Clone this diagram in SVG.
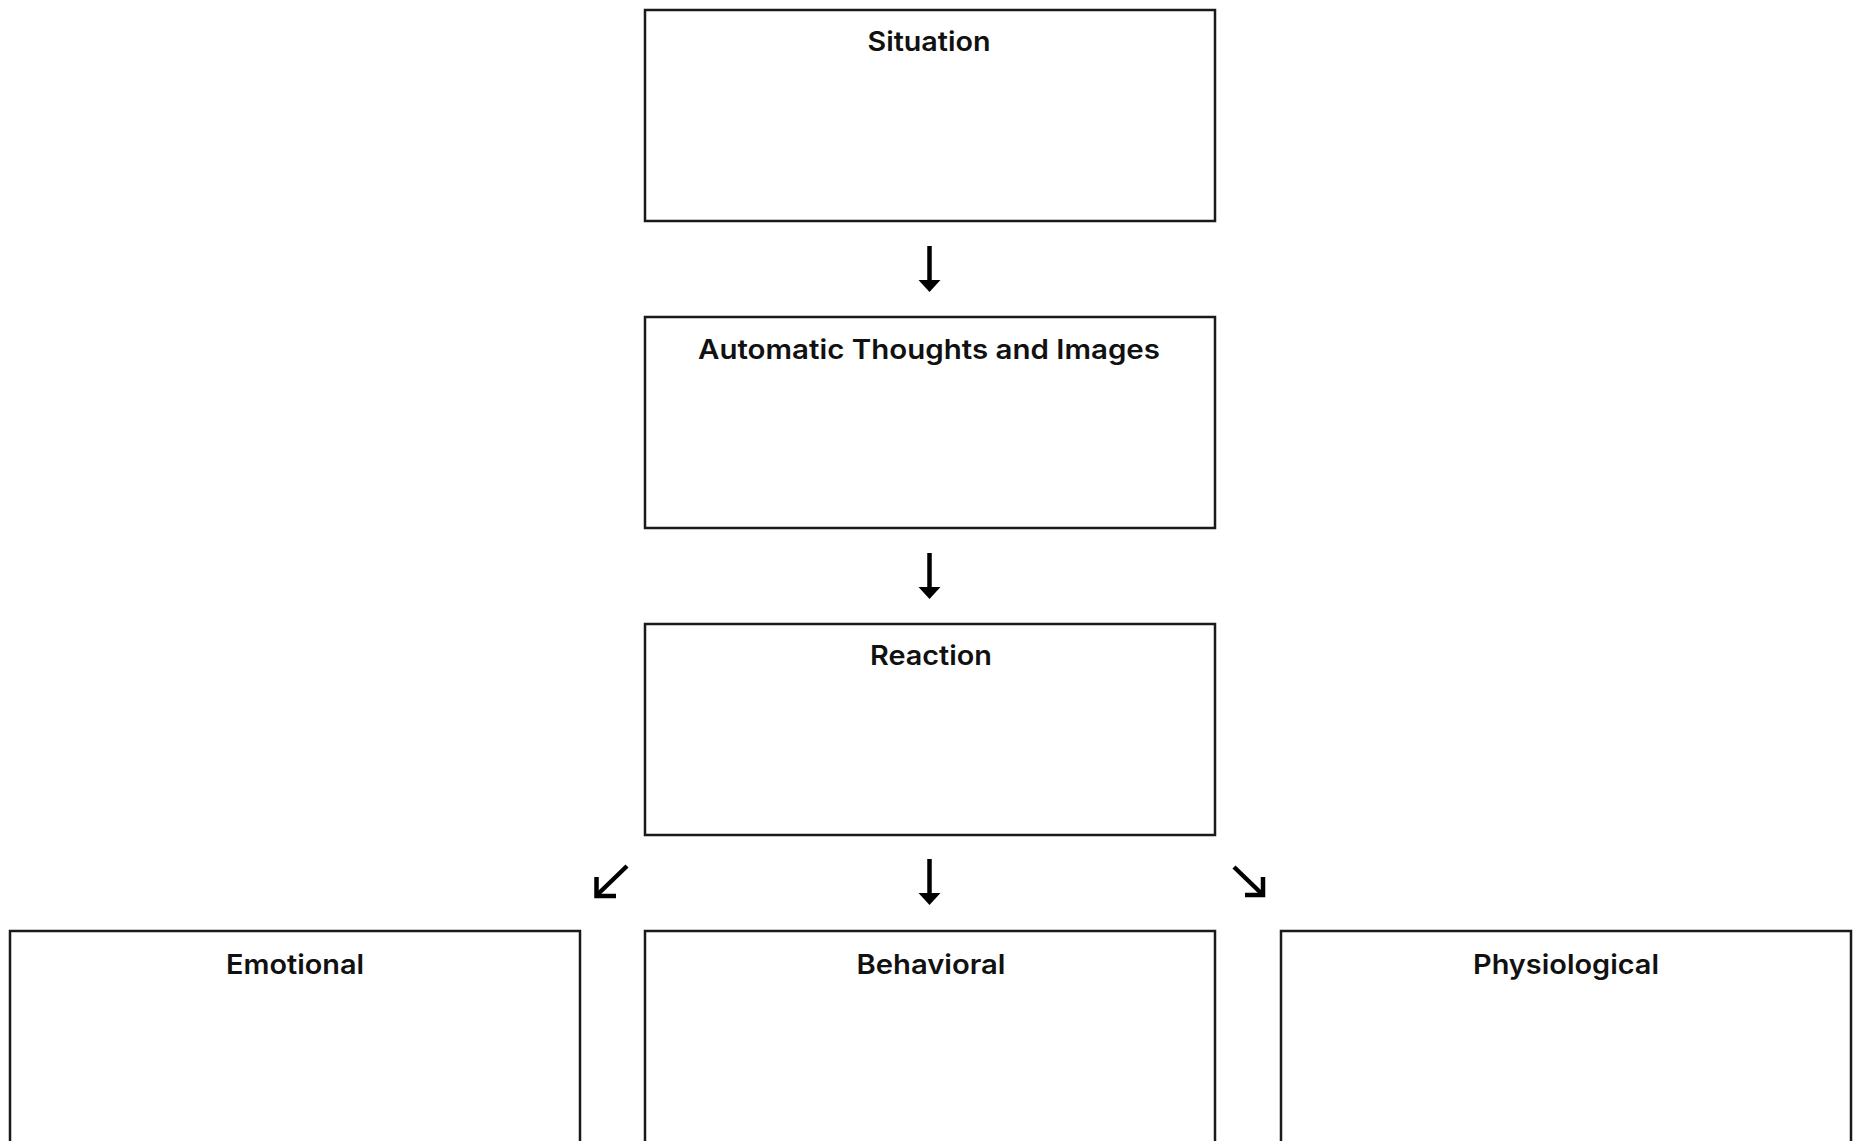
<svg xmlns="http://www.w3.org/2000/svg" width="1858" height="1141" viewBox="0 0 1858 1141">
  <style>
    .box { fill: #ffffff; stroke: #1a1a1a; stroke-width: 2.5; }
    .label { font-family: Inter, "Open Sans", "Liberation Sans", sans-serif; font-weight: 600; font-size: 27px; fill: #111111; text-anchor: middle; }
    .conn { stroke: #000000; stroke-width: 4.5; fill: none; }
    .head { fill: #000000; stroke: none; }
    .chev { stroke: #000000; stroke-width: 4.5; fill: none; stroke-linejoin: miter; stroke-linecap: butt; }
  </style>
  <rect width="1858" height="1141" fill="#ffffff"/>
  <g id="node-situation">
    <rect class="box" x="645" y="10" width="570" height="211"/>
    <text class="label" x="929" y="51" textLength="123" lengthAdjust="spacingAndGlyphs">Situation</text>
  </g>
  <g id="node-automatic-thoughts">
    <rect class="box" x="645" y="317" width="570" height="211"/>
    <text class="label" x="929" y="359" textLength="462" lengthAdjust="spacingAndGlyphs">Automatic Thoughts and Images</text>
  </g>
  <g id="node-reaction">
    <rect class="box" x="645" y="624" width="570" height="211"/>
    <text class="label" x="931" y="665" textLength="122" lengthAdjust="spacingAndGlyphs">Reaction</text>
  </g>
  <g id="node-emotional">
    <rect class="box" x="10" y="931" width="570" height="230"/>
    <text class="label" x="295" y="974" textLength="138" lengthAdjust="spacingAndGlyphs">Emotional</text>
  </g>
  <g id="node-behavioral">
    <rect class="box" x="645" y="931" width="570" height="230"/>
    <text class="label" x="931" y="974" textLength="149" lengthAdjust="spacingAndGlyphs">Behavioral</text>
  </g>
  <g id="node-physiological">
    <rect class="box" x="1281" y="931" width="570" height="230"/>
    <text class="label" x="1566" y="974" textLength="186" lengthAdjust="spacingAndGlyphs">Physiological</text>
  </g>
  <g id="connectors">
    <line class="conn" x1="929.5" y1="246" x2="929.5" y2="282"/>
    <polygon class="head" points="918.5,280 940.5,280 929.5,292"/>
    <line class="conn" x1="929.5" y1="553" x2="929.5" y2="589"/>
    <polygon class="head" points="918.5,587 940.5,587 929.5,599"/>
    <line class="conn" x1="929.5" y1="859" x2="929.5" y2="895"/>
    <polygon class="head" points="918.5,893 940.5,893 929.5,905"/>
    <line class="conn" x1="627" y1="866" x2="598" y2="894"/>
    <polyline class="chev" points="596.5,877 596.5,896 616,896"/>
    <line class="conn" x1="1234" y1="867" x2="1261" y2="893"/>
    <polyline class="chev" points="1245,895 1263,895 1263,877"/>
  </g>
</svg>
